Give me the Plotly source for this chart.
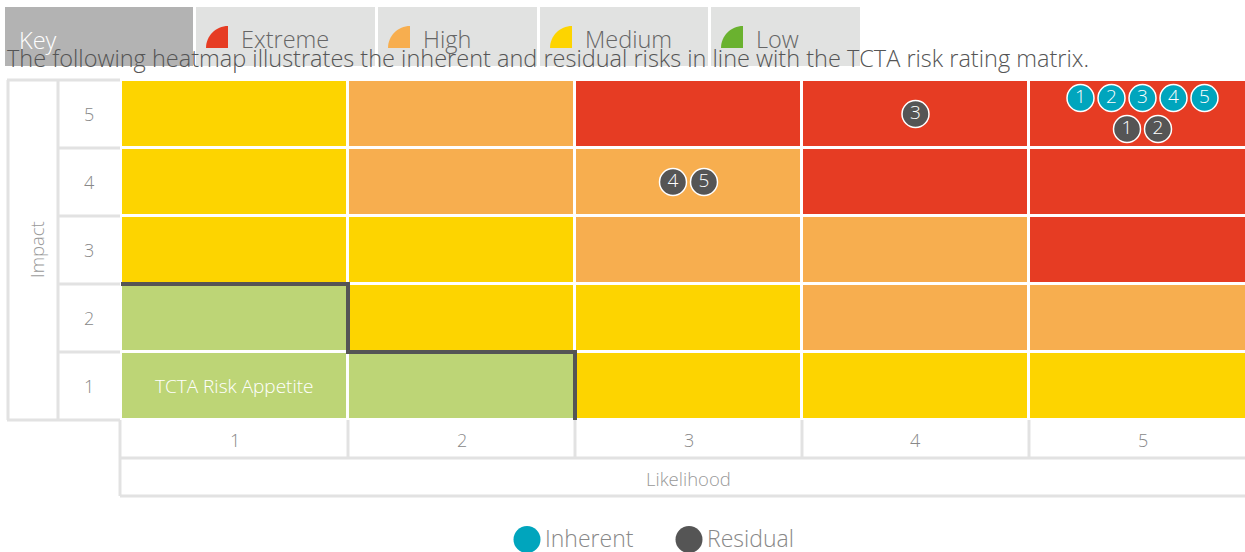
import plotly.graph_objects as go

# ---------------- data ----------------
likelihood_labels = ["1", "2", "3", "4", "5"]
impact_labels = ["1", "2", "3", "4", "5"]
# rating matrix, rows = impact 1..5, columns = likelihood 1..5
rating_matrix = [
    ["Low", "Low", "Medium", "Medium", "Medium"],
    ["Low", "Medium", "Medium", "High", "High"],
    ["Medium", "Medium", "High", "High", "Extreme"],
    ["Medium", "High", "High", "Extreme", "Extreme"],
    ["Medium", "High", "Extreme", "Extreme", "Extreme"],
]
rating_levels = ["Low", "Medium", "High", "Extreme"]
cell_colors = {"Low": "#bdd576", "Medium": "#fdd400", "High": "#f7ae4f", "Extreme": "#e63c23"}
key_labels = ["Extreme", "High", "Medium", "Low"]
key_colors = ["#e63c23", "#f7ae4f", "#fdd400", "#6ab22f"]

risk_ids = [1, 2, 3, 4, 5]
inherent_likelihood = [5, 5, 5, 5, 5]
inherent_impact = [5, 5, 5, 5, 5]
residual_likelihood = [5, 5, 4, 3, 3]
residual_impact = [5, 5, 5, 4, 4]

series_names = ["Inherent", "Residual"]
series_colors = ["#00a5bd", "#555555"]

title_text = "The following heatmap illustrates the inherent and residual risks in line with the TCTA risk rating matrix."

# ---------------- layout constants ----------------
W, H = 1245, 552
GRID_LEFT, CELL_W = 121, 227
GRID_TOP, CELL_H = 80, 68
FONT = "Open Sans"
FRAME = "#e2e2e2"

n = len(likelihood_labels)


def dx(px):  # pixel -> x data
    return 0.5 + (px - GRID_LEFT) / CELL_W


def dy(py):  # pixel -> y data
    return n + 0.5 - (py - GRID_TOP) / CELL_H


def px_(x):
    return x / W


def py_(y):
    return 1 - y / H


fig = go.Figure()

# heatmap cells
z = [[rating_levels.index(v) for v in row] for row in rating_matrix]
cs = []
for i, lvl in enumerate(rating_levels):
    cs.append([i / len(rating_levels), cell_colors[lvl]])
    cs.append([(i + 1) / len(rating_levels), cell_colors[lvl]])
fig.add_trace(go.Heatmap(
    x=list(range(1, n + 1)), y=list(range(1, n + 1)), z=z,
    zmin=-0.5, zmax=len(rating_levels) - 0.5, colorscale=cs,
    showscale=False, xgap=3, ygap=3, hoverinfo="skip",
))

# risk appetite boundary (Low cells)
heights = []
for c in range(n):
    h = 0
    for r in range(n):
        if rating_matrix[r][c] == "Low":
            h = r + 1
    heights.append(h)
lx, ly = [0.5], [heights[0] + 0.5]
for c in range(n):
    if heights[c] == 0:
        break
    lx.append(c + 1.5)
    ly.append(heights[c] + 0.5)
    nxt = heights[c + 1] if c + 1 < n else 0
    lx.append(c + 1.5)
    ly.append(nxt + 0.5)
fig.add_trace(go.Scatter(x=lx, y=ly, mode="lines", line=dict(color="#555555", width=4),
                         hoverinfo="skip", showlegend=False))

# risk bubbles
SP = 31 / CELL_W
cells = {}
for rid, l, i in zip(risk_ids, inherent_likelihood, inherent_impact):
    cells.setdefault((l, i), {"Inherent": [], "Residual": []})["Inherent"].append(rid)
for rid, l, i in zip(risk_ids, residual_likelihood, residual_impact):
    cells.setdefault((l, i), {"Inherent": [], "Residual": []})["Residual"].append(rid)

for name, color in zip(series_names, series_colors):
    xs, ys, ts = [], [], []
    for (l, i), groups in cells.items():
        ids = groups[name]
        both = len(groups["Inherent"]) > 0 and len(groups["Residual"]) > 0
        yoff = 0
        if both:
            yoff = 16 / CELL_H if name == "Inherent" else -15 / CELL_H
        for k, rid in enumerate(ids):
            xs.append(l + (k - (len(ids) - 1) / 2) * SP)
            ys.append(i + yoff)
            ts.append(str(rid))
    fig.add_trace(go.Scatter(
        x=xs, y=ys, text=ts, mode="markers+text", textposition="middle center",
        marker=dict(size=27, color=color, line=dict(color="white", width=1.5)),
        textfont=dict(family=FONT, size=19, color="white", weight=300),
        hoverinfo="skip", showlegend=False, name=name,
    ))

shapes = []
annotations = []


def text(x, y, s, size, color, xref="paper", yref="paper", xanchor="center", angle=0):
    annotations.append(dict(x=x, y=y, xref=xref, yref=yref, text=s, showarrow=False,
                            xanchor=xanchor, yanchor="middle", textangle=angle,
                            font=dict(family=FONT, size=size, color=color, weight=300)))


# frame lines
def line(x0, y0, x1, y1, xref="paper", yref="paper"):
    shapes.append(dict(type="line", x0=x0, y0=y0, x1=x1, y1=y1, xref=xref, yref=yref,
                       line=dict(color=FRAME, width=3), layer="below"))


line(px_(8), dy(GRID_TOP), px_(8), 0.5, "paper", "y")
line(px_(58), dy(GRID_TOP), px_(58), 0.5, "paper", "y")
line(px_(7), n + 0.5, px_(GRID_LEFT - 1), n + 0.5, "paper", "y")
line(px_(7), 0.5, px_(GRID_LEFT - 1), 0.5, "paper", "y")
for b in range(1, n):
    line(px_(58), b + 0.5, px_(GRID_LEFT - 1), b + 0.5, "paper", "y")
line(0.5 - 1 / CELL_W, 0.5, 0.5 - 1 / CELL_W, dy(496), "x", "y")
line(0.5 - 1 / CELL_W, dy(458), dx(W + 10), dy(458), "x", "y")
line(0.5 - 1 / CELL_W, dy(496), dx(W + 10), dy(496), "x", "y")
for b in range(1, n):
    line(b + 0.5, 0.5, b + 0.5, dy(458), "x", "y")

# axis labels
for i, lab in enumerate(impact_labels):
    text(px_(89), i + 1, lab, 18, "#888888", yref="y")
for i, lab in enumerate(likelihood_labels):
    text(i + 1, dy(440), lab, 18, "#888888", xref="x", yref="y")
text(px_(36), (n + 1) / 2, "Impact", 18.5, "#999999", yref="y", angle=-90)
text(dx(688), dy(478), "Likelihood", 18.5, "#999999", xref="x", yref="y")
text(1, 1, "TCTA Risk Appetite", 19, "white", xref="x", yref="y")

# key bar
key_boxes = [(5, 193, "#b3b3b3")]
key_lefts = [196, 378, 540, 711]
key_rights = [375, 537, 708, 860]
for l, r in zip(key_lefts, key_rights):
    key_boxes.append((l, r, "#e1e2e1"))
for l, r, c in key_boxes:
    shapes.append(dict(type="rect", xref="paper", yref="paper", x0=px_(l), x1=px_(r),
                       y0=py_(66), y1=py_(7), fillcolor=c, line=dict(width=0), layer="below"))
text(px_(17), py_(40), "Key", 23.5, "white", xanchor="left")
K = 0.5523
for lab, col, l in zip(key_labels, key_colors, key_lefts):
    cx, cy, r = l + 32, 48, 22
    pts = [(cx, cy), (cx - r, cy), (cx - r, cy - K * r), (cx - K * r, cy - r), (cx, cy - r)]
    P = [(px_(a), py_(b)) for a, b in pts]
    path = (f"M{P[0][0]},{P[0][1]} L{P[1][0]},{P[1][1]} "
            f"C{P[2][0]},{P[2][1]} {P[3][0]},{P[3][1]} {P[4][0]},{P[4][1]} Z")
    shapes.append(dict(type="path", xref="paper", yref="paper", path=path, fillcolor=col,
                       line=dict(width=0)))
    text(px_(l + 43), py_(39), lab, 23.5, "#666666", xanchor="left")

# subtitle
text(px_(5), py_(58), title_text, 23.5, "#555555", xanchor="left")

# legend
leg_x = [527, 689]
for name, col, x in zip(series_names, series_colors, leg_x):
    shapes.append(dict(type="circle", xref="paper", yref="paper", x0=px_(x - 13.5), x1=px_(x + 13.5),
                       y0=py_(553), y1=py_(526), fillcolor=col, line=dict(width=0)))
    text(px_(x + 16), py_(538), name, 23, "#888888", xanchor="left")

fig.update_layout(
    width=W, height=H, margin=dict(l=0, r=0, t=0, b=0),
    paper_bgcolor="white", plot_bgcolor="white",
    xaxis=dict(range=[dx(0), dx(W)], showgrid=False, zeroline=False, showticklabels=False,
               ticks="", fixedrange=True),
    yaxis=dict(range=[dy(H), dy(0)], showgrid=False, zeroline=False, showticklabels=False,
               ticks="", fixedrange=True),
    shapes=shapes, annotations=annotations, showlegend=False,
)

fig.write_html("out.html")
